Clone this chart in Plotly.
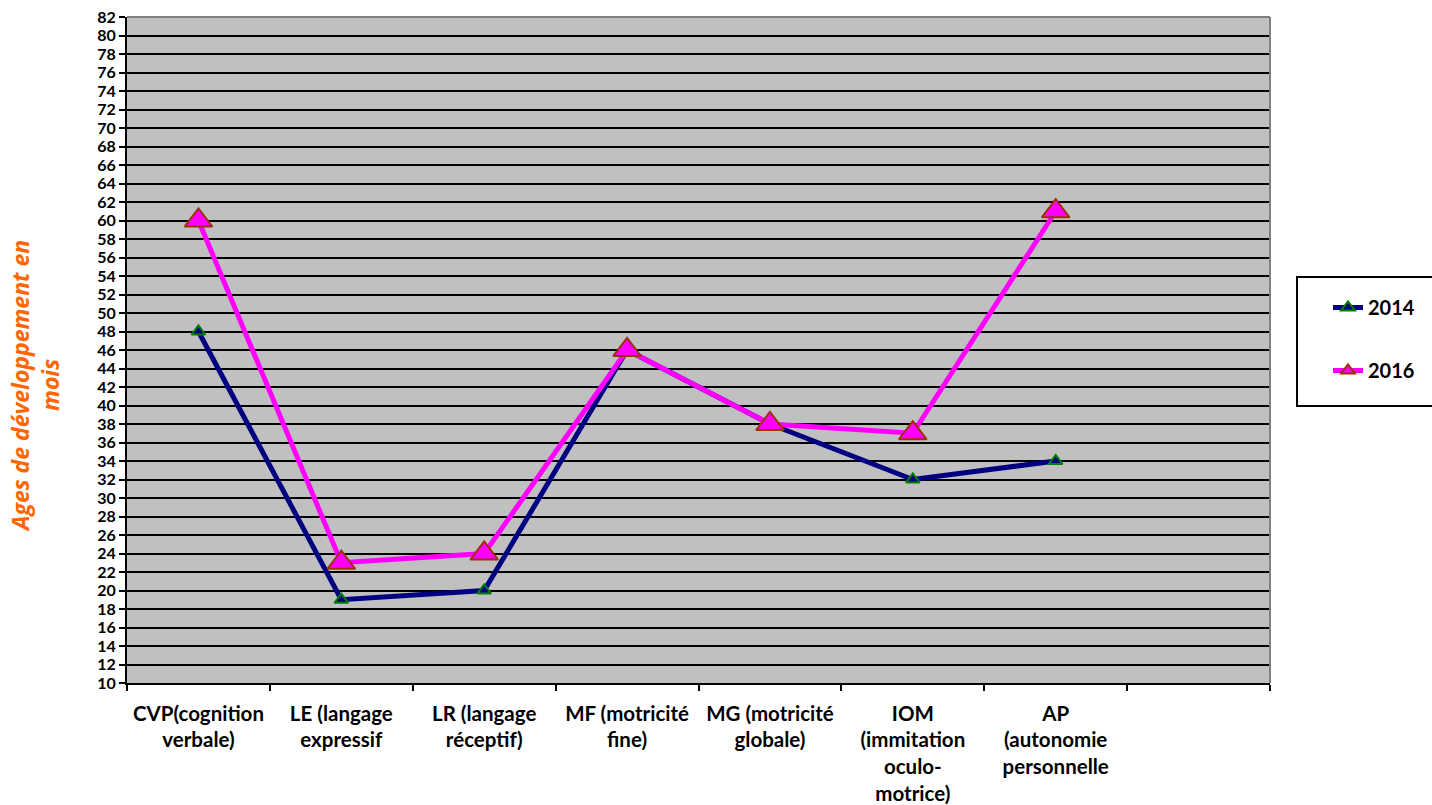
import plotly.graph_objects as go

# Domain categories (last slot left empty on the axis)
categories = [
    "CVP(cognition<br>verbale)",
    "LE (langage<br>expressif",
    "LR (langage<br>réceptif)",
    "MF (motricité<br>fine)",
    "MG (motricité<br>globale)",
    "IOM<br>(immitation<br>oculo-<br>motrice)",
    "AP<br>(autonomie<br>personnelle",
]
empty_slot = " "

ages_2014 = [48, 19, 20, 46, 38, 32, 34]
ages_2016 = [60, 23, 24, 46, 38, 37, 61]

y_title = "Ages de développement en<br>mois"

W, H = 1432, 805
L, R, T, B = 127, 1270, 17, 683
FONT = "Lato"

fig = go.Figure()

fig.add_trace(go.Scatter(
    x=categories, y=ages_2014, name="2014", mode="lines+markers",
    line=dict(color="#000080", width=5),
    marker=dict(symbol="triangle-up", size=12, color="#000080",
                line=dict(color="#008000", width=2)),
    legendgroup="a",
))
fig.add_trace(go.Scatter(
    x=categories, y=ages_2016, name="2016", mode="lines+markers",
    line=dict(color="#FF00FF", width=5),
    marker=dict(symbol="triangle-up", size=24, color="#FF00FF",
                line=dict(color="#993300", width=2)),
    legendgroup="b",
))

# Plot frame: grey top/right edges
fig.add_shape(type="line", xref="paper", yref="paper", x0=0, x1=1, y0=1, y1=1,
              line=dict(color="#808080", width=2))
fig.add_shape(type="line", xref="paper", yref="paper", x0=1, x1=1, y0=0, y1=1,
              line=dict(color="#808080", width=2))

# Legend frame (runs off the right edge)
px = lambda v: (v - L) / (R - L)
py = lambda v: (B - v) / (B - T)
fig.add_shape(type="rect", xref="paper", yref="paper",
              x0=px(1297), x1=px(1460), y0=py(406), y1=py(277),
              line=dict(color="black", width=2), fillcolor="white", layer="below")

fig.add_annotation(
    text=y_title, xref="paper", yref="paper", x=px(35), y=py(386),
    textangle=-90, showarrow=False, xanchor="center", yanchor="middle",
    font=dict(family="Open Sans", size=23, color="#FF6600", style="italic", weight="bold"),
)

fig.update_layout(
    width=W, height=H,
    margin=dict(l=L, r=W - R, t=T, b=H - B, pad=0, autoexpand=False),
    paper_bgcolor="white", plot_bgcolor="#C0C0C0",
    font=dict(family=FONT, color="black", weight="bold"),
    showlegend=True,
    legend=dict(
        x=px(1328), y=py(288), xanchor="left", yanchor="top",
        font=dict(family=FONT, size=20, weight="bold"),
        bgcolor="rgba(0,0,0,0)", borderwidth=0,
        tracegroupgap=34, itemsizing="constant",
    ),
    xaxis=dict(
        type="category", categoryorder="array",
        categoryarray=categories + [empty_slot],
        range=[-0.5, 7.5], tickson="boundaries",
        ticks="outside", ticklen=6, tickwidth=2, tickcolor="black",
        ticklabelstandoff=11, automargin=False,
        showgrid=False, showline=True, linecolor="black", linewidth=2,
        tickfont=dict(family=FONT, size=20.5, weight="bold"),
        tickangle=0, zeroline=False,
    ),
    yaxis=dict(
        range=[10, 82], dtick=2, tick0=10,
        ticks="outside", ticklen=6, tickwidth=2, tickcolor="black",
        showgrid=True, gridcolor="black", gridwidth=1.5,
        showline=True, linecolor="black", linewidth=2, automargin=False,
        tickfont=dict(family=FONT, size=16, weight="bold"),
        zeroline=False,
    ),
)

fig.write_html("out.html")
